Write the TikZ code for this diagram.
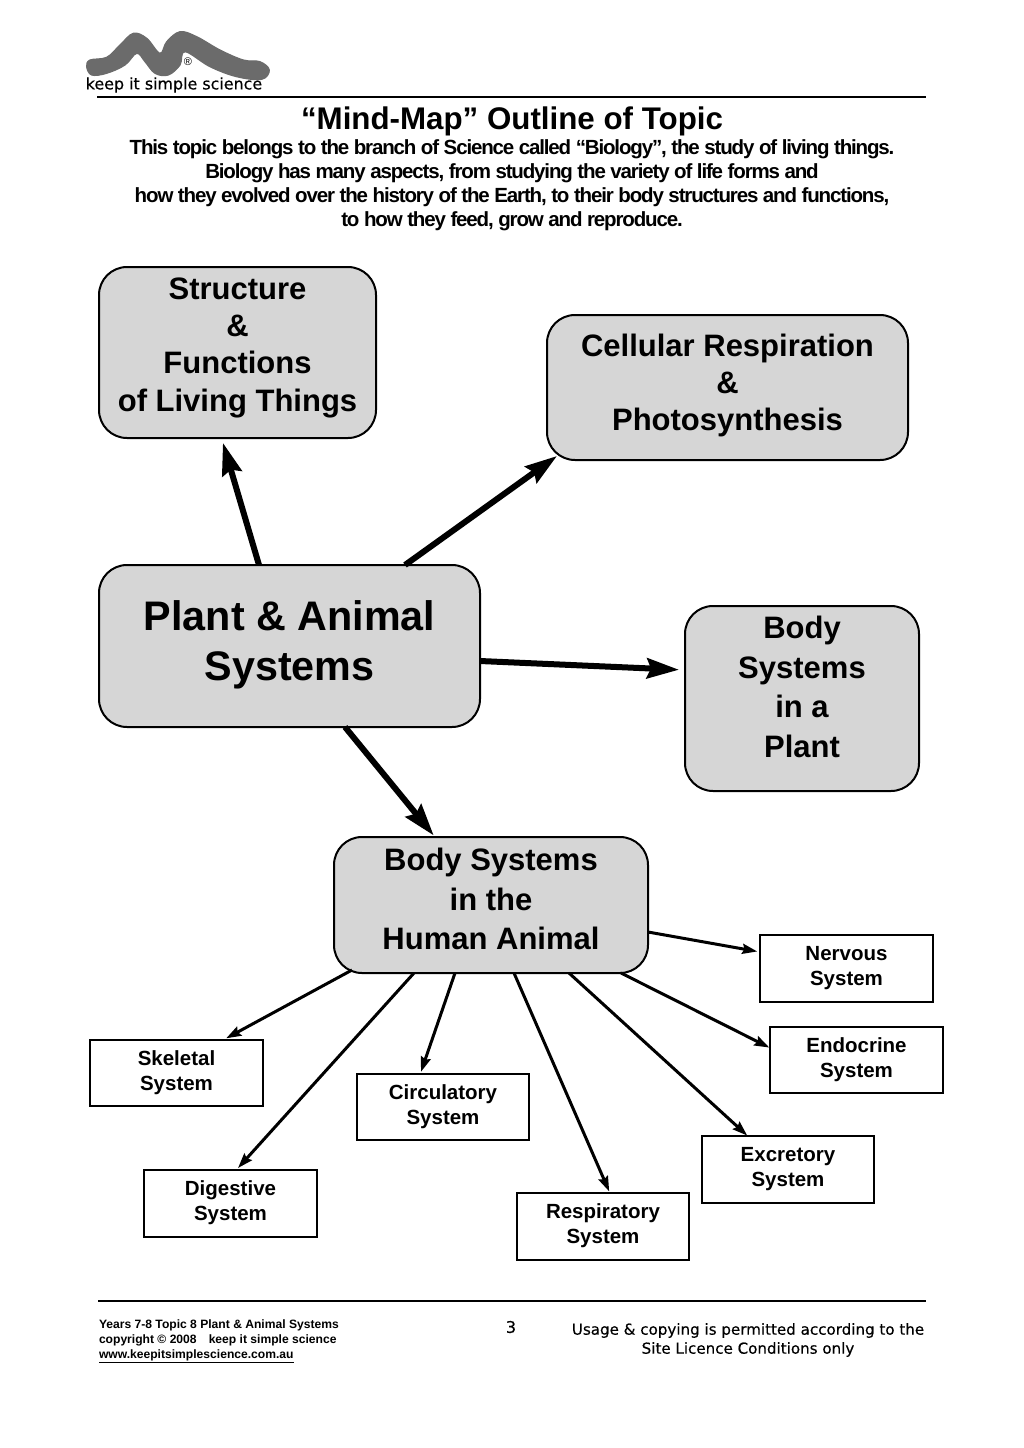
\documentclass[tikz,border=0pt]{standalone}
\usepackage{fontspec}
\setmainfont{Liberation Sans}
\newfontfamily\logofont[FakeBold=0.4]{DejaVu Sans}
\usetikzlibrary{arrows.meta}
\tikzset{
	bigbox/.style={draw,line width=2pt,fill=black!16,rounded corners=28pt,inner sep=0pt,outer sep=0pt,align=center,font=\fontsize{31}{37.2}\selectfont\bfseries},
	smallbox/.style={draw,line width=1.6pt,minimum width=172.5pt,minimum height=66.5pt,inner sep=0pt,outer sep=0pt,align=center,text depth=5.4pt,font=\fontsize{20.5}{25}\selectfont\bfseries},
	bigarrow/.style={->,>={Stealth[length=32pt,width=20pt,inset=4pt]},line width=6pt},
	thinarrow/.style={->,>={Stealth[length=15pt,width=10pt,inset=2pt]},line width=3pt},
	plain/.style={inner sep=0pt,outer sep=0pt,align=center}
}
\begin{document}
\begin{tikzpicture}[x=1pt,y=-1pt]
	\useasboundingbox (0,0) rectangle (1024,1448);
	% logo
	\filldraw[black!58,line width=1.2pt] plot[smooth cycle,tension=0.6] coordinates {(86.7,66.7) (90,60) (106.7,57.3) (120,45) (133.3,33.3) (146.7,38.3) (160,53.3) (166.7,41.7) (180,31.7) (196.7,36.7) (220,50) (243.3,60) (260,61.7) (269.3,70) (261.7,79.3) (236.7,76.7) (210,66.7) (185,51.7) (180,65) (168.3,75) (155,73.3) (145,61.7) (136.7,53.3) (125,65) (106.7,73.3) (91.7,75)};
	\node[plain,font=\fontsize{11}{11}\selectfont] (reg) at (188,62) {®};
	\node[plain,font=\fontsize{15.9}{16}\logofont] (logotext) at (174,85) {keep it simple science};
	\coordinate (topl) at (97,97);
	\coordinate (topr) at (926,97);
	\draw[line width=1.8pt] (topl)--(topr);
	% heading
	\node[plain,font=\fontsize{31.3}{36}\selectfont\bfseries] (title) at (512,121) {“Mind-Map” Outline of Topic};
	\node[plain,font=\fontsize{20.5}{24}\selectfont\bfseries\addfontfeatures{LetterSpace=-5.6}] (intro) at (512,185) {This topic belongs to the branch of Science called “Biology”, the study of living things.\\
		Biology has many aspects, from studying the variety of life forms and\\
		how they evolved over the history of the Earth, to their body structures and functions,\\
		to how they feed, grow and reproduce.};
	% big boxes
	\node[bigbox,minimum width=277pt,minimum height=171pt,text depth=16pt] (structure) at (237.5,352.5) {Structure\\\&\\Functions\\of Living Things};
	\node[bigbox,minimum width=361pt,minimum height=145pt,text depth=10.6pt] (cellular) at (727.5,387.5) {Cellular Respiration\\\&\\Photosynthesis};
	\node[bigbox,minimum width=381pt,minimum height=162pt,text depth=10.7pt,font=\fontsize{41.3}{50}\selectfont\bfseries] (plant) at (289.5,646) {Plant \& Animal\\Systems};
	\node[bigbox,minimum width=234pt,minimum height=185pt,text depth=23pt,font=\fontsize{31}{39.5}\selectfont\bfseries] (plantsys) at (802,698.5) {Body\\Systems\\in a\\Plant};
	\node[bigbox,minimum width=314pt,minimum height=136pt,text depth=12pt,font=\fontsize{31}{39.5}\selectfont\bfseries] (animalsys) at (491,905) {Body Systems\\in the\\Human Animal};
	% small boxes
	\node[smallbox] (nervous) at (846.5,968.5) {Nervous\\System};
	\node[smallbox] (endocrine) at (856.5,1060) {Endocrine\\System};
	\node[smallbox] (skeletal) at (176.5,1073) {Skeletal\\System};
	\node[smallbox] (circulatory) at (443,1107) {Circulatory\\System};
	\node[smallbox] (digestive) at (230.5,1203.5) {Digestive\\System};
	\node[smallbox] (respiratory) at (603,1226.5) {Respiratory\\System};
	\node[smallbox] (excretory) at (788,1169.5) {Excretory\\System};
	% arrows
	\draw[bigarrow,shorten >=5pt] ([xshift=-30.5pt]plant.north)--([xshift=-16pt]structure.south);
	\draw[bigarrow] ([xshift=115.5pt]plant.north)--([xshift=10pt,yshift=4pt]cellular.south west);
	\draw[bigarrow,shorten >=6pt] ([yshift=-15pt]plant.east)--([yshift=28.5pt]plantsys.west);
	\draw[bigarrow,shorten >=2pt] ([xshift=55.5pt]plant.south)--([xshift=-56pt]animalsys.north);
	\draw[thinarrow,shorten >=3pt] ([yshift=-27pt]animalsys.east)--([yshift=16.5pt]nervous.west);
	\draw[thinarrow,shorten >=1pt] ([xshift=130pt]animalsys.south)--([yshift=12pt]endocrine.west);
	\draw[thinarrow,shorten >=3pt] ([xshift=-139pt,yshift=3pt]animalsys.south)--([xshift=47pt]skeletal.north);
	\draw[thinarrow,shorten >=3pt] ([xshift=-77pt]animalsys.south)--([xshift=5.5pt]digestive.north);
	\draw[thinarrow,shorten >=2pt] ([xshift=-36pt]animalsys.south)--([xshift=-22.7pt]circulatory.north);
	\draw[thinarrow,shorten >=2pt] ([xshift=23pt]animalsys.south)--([xshift=7pt]respiratory.north);
	\draw[thinarrow,shorten >=1pt] ([xshift=78pt]animalsys.south)--([xshift=-40pt]excretory.north);
	% footer
	\coordinate (botl) at (98,1301);
	\coordinate (botr) at (926,1301);
	\draw[line width=1.8pt] (botl)--(botr);
	\node[plain,anchor=west,align=left,font=\fontsize{12.1}{15}\selectfont\bfseries] (credits) at (99,1341) {Years 7-8 Topic 8 Plant \& Animal Systems\\copyright © 2008\quad keep it simple science\\\underline{www.keepitsimplescience.com.au}};
	\node[plain,font=\fontsize{16}{17}\logofont] (page) at (511,1327) {3};
	\node[plain,font=\fontsize{15.1}{19}\logofont] (usage) at (748,1340) {Usage \& copying is permitted according to the\\Site Licence Conditions only};
\end{tikzpicture}
\end{document}
